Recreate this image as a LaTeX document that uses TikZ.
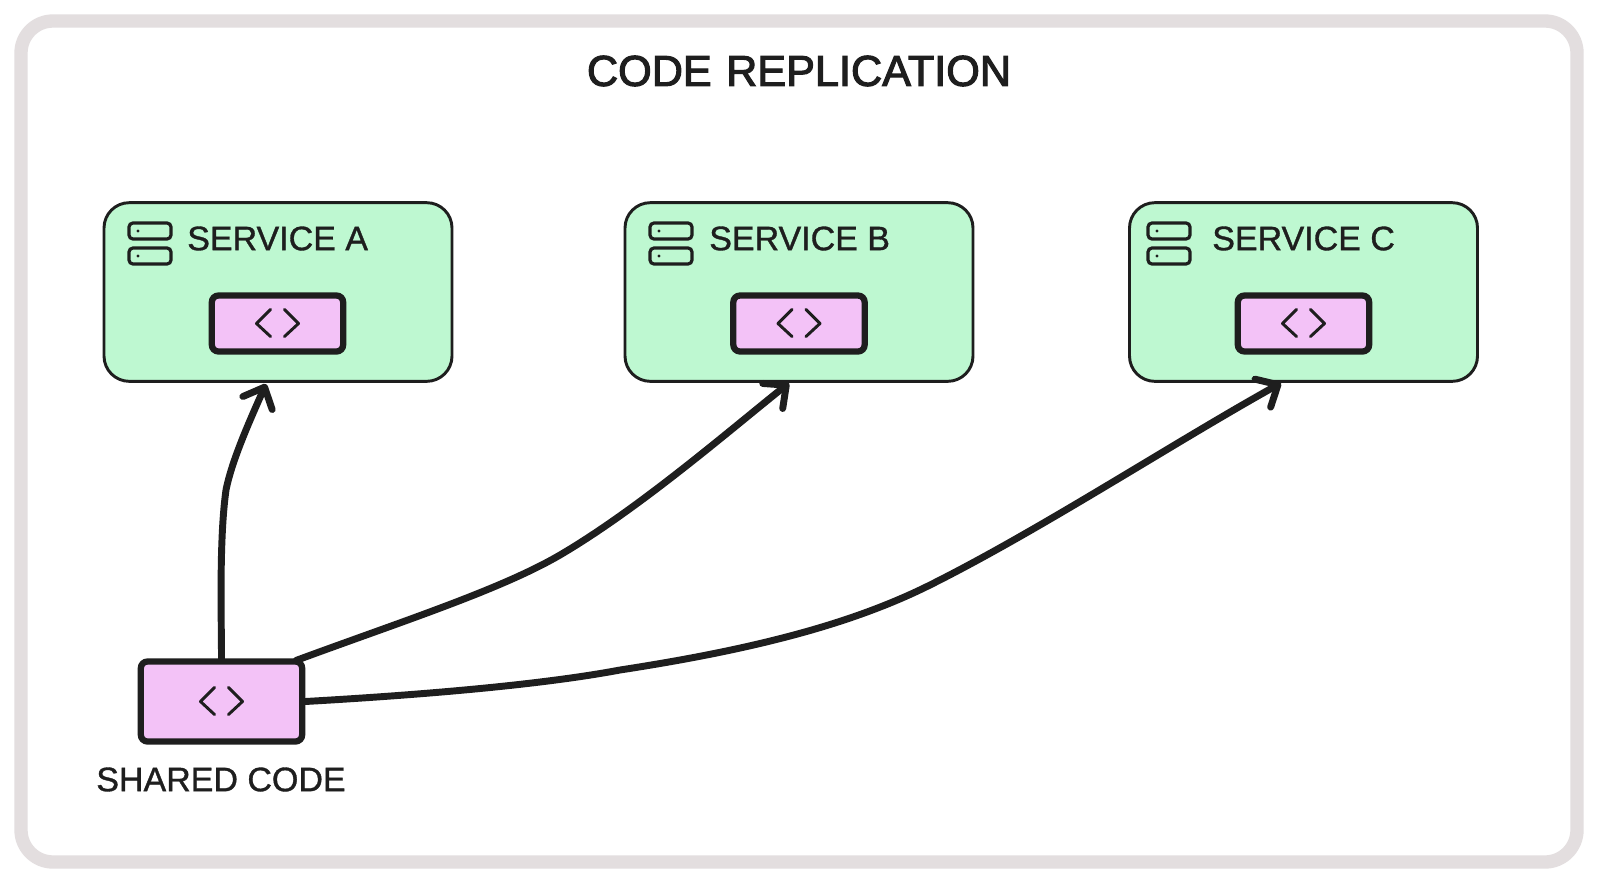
\documentclass[tikz,border=0pt]{standalone}
\usepackage{fontspec}
\setmainfont{Liberation Sans}
\newfontfamily\labfont{Liberation Sans}[FakeBold=1]
\newfontfamily\titlefont{Liberation Sans}[FakeBold=2.5]
\usetikzlibrary{arrows.meta,calc}
\definecolor{ink}{HTML}{1E1E1E}
\definecolor{framec}{HTML}{E3DEDF}
\definecolor{mint}{HTML}{BEF8D1}
\definecolor{lilac}{HTML}{F3C2F7}
\tikzset{
 x=0.75pt,y=-0.75pt,
 frameline/.style={draw=framec,line width=10pt,rounded corners=24pt},
 svcbox/.style={draw=ink,fill=mint,line width=2.2pt,rounded corners=19pt,minimum width=261pt,minimum height=134pt,inner sep=0pt},
 codebox/.style={draw=ink,fill=lilac,line width=4.7pt,rounded corners=5pt,inner sep=0pt},
 small/.style={codebox,minimum width=98.5pt,minimum height=42pt},
 big/.style={codebox,minimum width=121pt,minimum height=60pt},
 lab/.style={text=ink,inner sep=0pt,font=\labfont\fontsize{25.5pt}{28pt}\selectfont},
 titlelab/.style={text=ink,inner sep=0pt,font=\titlefont\fontsize{32.4pt}{36pt}\selectfont,text width=400pt,align=center},
 conn/.style={draw=ink,line width=5.2pt,line cap=round,-{Straight Barb[length=13pt,width=24pt,line width=5.2pt,round]}},
 icon/.style={draw=ink,line width=2.2pt,line cap=round,line join=round},
 srv/.style={draw=ink,line width=2.4pt,rounded corners=3pt},
}
\newcommand{\brackets}[1]{%
 \draw[icon] ($(#1)+(-7,-14)$) -- ($(#1)+(-21,0)$) -- ($(#1)+(-7,13)$);
 \draw[icon] ($(#1)+(7,-14)$) -- ($(#1)+(21,0)$) -- ($(#1)+(7,13)$);
}
\newcommand{\server}[1]{%
 \draw[srv] ($(#1)+(0,0)$) rectangle ($(#1)+(42,16)$);
 \draw[srv] ($(#1)+(0,25)$) rectangle ($(#1)+(42,41)$);
 \fill[ink] ($(#1)+(9,8)$) circle (1.2pt);
 \fill[ink] ($(#1)+(9,33)$) circle (1.2pt);
}
\begin{document}
\begin{tikzpicture}
\useasboundingbox (0,0) rectangle (1600,886);
\fill[white] (0,0) rectangle (1600,886);
\draw[frameline] (21,21) rectangle (1577,862);
\node[titlelab] (title) at (799,71) {CODE REPLICATION};
\node[svcbox] (svcA) at (278,292) {};
\node[svcbox] (svcB) at (799,292) {};
\node[svcbox] (svcC) at (1303.5,292) {};
\node[small] (codeA) at (277.5,323.5) {};
\node[small] (codeB) at (799,323.5) {};
\node[small] (codeC) at (1303.5,323.5) {};
\node[big] (shared) at (221.5,701.5) {};
\node[lab,anchor=west] (nameA) at (187,238.5) {SERVICE A};
\node[lab,anchor=west] (nameB) at (709,238.5) {SERVICE B};
\node[lab,anchor=west] (nameC) at (1212,238.5) {SERVICE C};
\node[lab] (sharedname) at (221,779.5) {SHARED CODE};
\coordinate (srvA) at (129,223);
\coordinate (srvB) at (650,223);
\coordinate (srvC) at (1148,223);
\server{srvA}\server{srvB}\server{srvC}
\brackets{codeA}\brackets{codeB}\brackets{codeC}\brackets{shared}
\coordinate (inA) at (266,384);
\coordinate (inB) at (789,383);
\coordinate (inC) at (1281,383);
\coordinate (outB) at ($(shared.north east)+(-9,2)$);
\draw[conn] (shared.north) .. controls +(0,-40) and (219,540) .. (226,490) .. controls (232,460) and (250,420) .. (inA);
\draw[conn] (outB) .. controls (400,622) and (500,590) .. (560,555) .. controls (640,508) and (730,430) .. (inB);
\draw[conn] (shared.east) .. controls (420,695) and (540,685) .. (620,670) .. controls (750,650) and (850,625) .. (930,585) .. controls (1040,530) and (1170,445) .. (inC);
\end{tikzpicture}
\end{document}
